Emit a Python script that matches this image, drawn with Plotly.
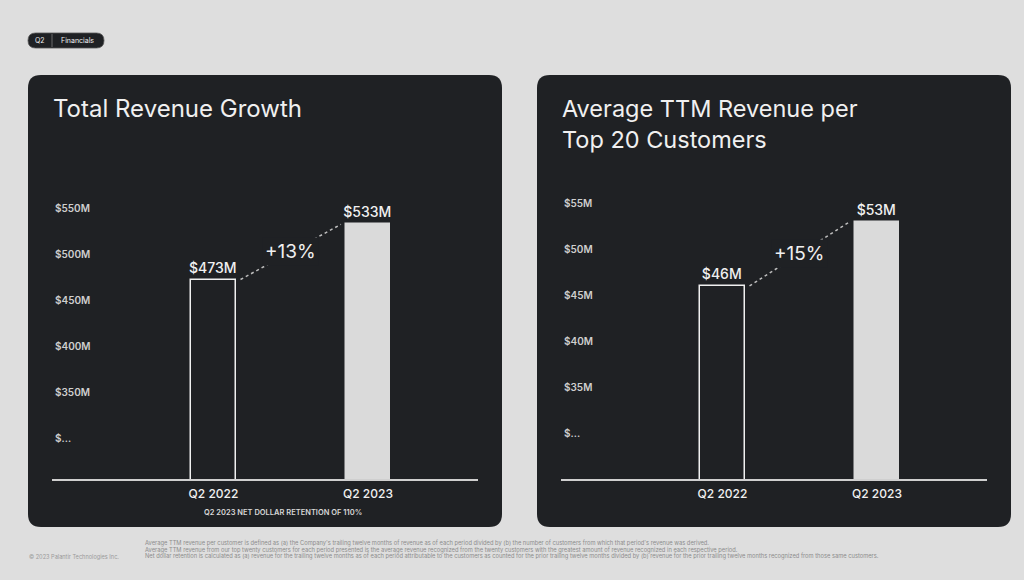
import plotly.graph_objects as go

# ---------------- data ----------------
categories = ["Q2 2022", "Q2 2023"]
revenue_m = [473, 533]            # Total revenue, $M
top20_avg_m = [46, 53]            # Avg TTM revenue per top-20 customer, $M
revenue_growth = "+13%"
top20_growth = "+15%"
rev_tickvals = [300, 350, 400, 450, 500, 550]
rev_ticktext = ["$...", "$350M", "$400M", "$450M", "$500M", "$550M"]
top_tickvals = [30, 35, 40, 45, 50, 55]
top_ticktext = ["$...", "$35M", "$40M", "$45M", "$50M", "$55M"]
left_title = "Total Revenue Growth"
right_title = "Average TTM Revenue per<br>Top 20 Customers"
ndr_note = "Q2 2023 NET DOLLAR RETENTION OF 110%"
footnotes = [
    "Average TTM revenue per customer is defined as (a) the Company's trailing twelve months of revenue as of each period divided by (b) the number of customers from which that period's revenue was derived.",
    "Average TTM revenue from our top twenty customers for each period presented is the average revenue recognized from the twenty customers with the greatest amount of revenue recognized in each respective period.",
    "Net dollar retention is calculated as (a) revenue for the trailing twelve months as of each period attributable to the customers as counted for the prior trailing twelve months divided by (b) revenue for the prior trailing twelve months recognized from those same customers.",
]
copyright_txt = "© 2023 Palantir Technologies Inc."

# ---------------- style ----------------
W, H = 1024, 580
BG = "#dedede"
PANEL = "#1f2124"
LIGHT = "#dadada"
WHITE = "#f0f0f0"
FONT = "Inter"
BAR_W = 0.29


def px(x):
    return x / W


def py(y):
    return 1 - y / H


def rounded_path(x0, y0, x1, y1, r):
    rx, ry = r / W, r / H
    X0, X1 = px(x0), px(x1)
    Y0, Y1 = py(y0), py(y1)  # Y0 top (larger), Y1 bottom
    return (
        f"M {X0+rx},{Y0} L {X1-rx},{Y0} Q {X1},{Y0} {X1},{Y0-ry} "
        f"L {X1},{Y1+ry} Q {X1},{Y1} {X1-rx},{Y1} "
        f"L {X0+rx},{Y1} Q {X0},{Y1} {X0},{Y1+ry} "
        f"L {X0},{Y0-ry} Q {X0},{Y0} {X0+rx},{Y0} Z"
    )


xpos = list(range(len(categories)))

fig = go.Figure()


def add_panel_traces(vals, xa, ya):
    fig.add_trace(go.Bar(
        x=xpos, y=vals, width=BAR_W, xaxis=xa, yaxis=ya,
        marker=dict(color=[PANEL, LIGHT], line=dict(color=[WHITE, LIGHT], width=1.5)),
        texttemplate="$%{y}M", textposition="outside", constraintext="none",
        textfont=dict(family=FONT, size=14, color=WHITE, weight=500),
        cliponaxis=False, showlegend=False, hoverinfo="skip",
    ))
    fig.add_trace(go.Scatter(
        x=[xpos[0] + BAR_W / 2 + 0.03, xpos[1] - BAR_W / 2 - 0.03],
        y=[vals[0], vals[1]], mode="lines", xaxis=xa, yaxis=ya,
        line=dict(color="#bdbdbd", width=1.5, dash="dot"),
        showlegend=False, hoverinfo="skip",
    ))


add_panel_traces(revenue_m, "x", "y")
add_panel_traces(top20_avg_m, "x2", "y2")

xcommon = dict(
    tickmode="array", tickvals=xpos, ticktext=categories, range=[-1.045, 1.712],
    showline=True, linecolor="#cfcfcf", linewidth=1.5, showgrid=False, zeroline=False,
    ticks="", ticklabelstandoff=3,
    tickfont=dict(family=FONT, size=12, color=WHITE, weight=500),
    fixedrange=True,
)
ycommon = dict(
    tickmode="array", showline=False, showgrid=False, zeroline=False, ticks="",
    ticklabelposition="inside", tickfont=dict(family=FONT, size=10, color="#cfcfcf", weight=600),
    fixedrange=True,
)
ydom = [py(479), py(194)]

fig.update_layout(
    width=W, height=H, margin=dict(l=0, r=0, t=0, b=0),
    paper_bgcolor=BG, plot_bgcolor="rgba(0,0,0,0)",
    barmode="overlay", bargap=0,
    xaxis=dict(domain=[px(52), px(478)], anchor="y", **xcommon),
    yaxis=dict(domain=ydom, anchor="x", range=[256, 566], tickvals=rev_tickvals,
               ticktext=rev_ticktext, **ycommon),
    xaxis2=dict(domain=[px(561), px(987)], anchor="y2", **xcommon),
    yaxis2=dict(domain=ydom, anchor="x2", range=[25, 56], tickvals=top_tickvals,
                ticktext=top_ticktext, **ycommon),
    hovermode=False,
)

shapes = [
    dict(type="path", path=rounded_path(28, 75, 502, 527, 13), xref="paper", yref="paper",
         fillcolor=PANEL, line=dict(width=0), layer="below"),
    dict(type="path", path=rounded_path(537, 75, 1011, 527, 13), xref="paper", yref="paper",
         fillcolor=PANEL, line=dict(width=0), layer="below"),
    dict(type="path", path=rounded_path(28, 33, 104, 48, 7.5), xref="paper", yref="paper",
         fillcolor=PANEL, line=dict(width=0.8, color="#555"), layer="below"),
    dict(type="line", x0=px(52), x1=px(52), y0=py(34), y1=py(47), xref="paper", yref="paper",
         line=dict(color="#6a6a6a", width=1)),
]
fig.update_layout(shapes=shapes)

ann = []
# titles
ann.append(dict(x=px(51), y=py(108), text=left_title, xref="paper", yref="paper",
                xanchor="left", yanchor="middle", showarrow=False, align="left",
                font=dict(family=FONT, size=24, color=WHITE, weight=400)))
ann.append(dict(x=px(560), y=py(124), text=right_title, xref="paper", yref="paper",
                xanchor="left", yanchor="middle", showarrow=False, align="left",
                font=dict(family=FONT, size=23.5, color=WHITE, weight=400)))
# growth labels (mask the dotted line)
ann.append(dict(x=0.5, y=(revenue_m[0] + revenue_m[1]) / 2, xref="x", yref="y",
                text=revenue_growth, showarrow=False, bgcolor=PANEL, borderpad=2,
                font=dict(family=FONT, size=19, color=WHITE, weight=400)))
ann.append(dict(x=0.5, y=(top20_avg_m[0] + top20_avg_m[1]) / 2, xref="x2", yref="y2",
                text=top20_growth, showarrow=False, bgcolor=PANEL, borderpad=2,
                font=dict(family=FONT, size=19, color=WHITE, weight=400)))
# NDR note
ann.append(dict(x=px(283), y=py(512), text=ndr_note, xref="paper", yref="paper",
                showarrow=False, xanchor="center", yanchor="middle",
                font=dict(family=FONT, size=7.5, color="#d8d8d8", weight=600)))
# badge
ann.append(dict(x=px(40), y=py(41), text="Q2", xref="paper", yref="paper", showarrow=False,
                xanchor="center", yanchor="middle",
                font=dict(family=FONT, size=7, color=WHITE)))
ann.append(dict(x=px(77), y=py(41), text="Financials", xref="paper", yref="paper", showarrow=False,
                xanchor="center", yanchor="middle",
                font=dict(family=FONT, size=7, color=WHITE)))
# footnotes
for i, t in enumerate(footnotes):
    ann.append(dict(x=px(143), y=py(543 + 6.5 * i), text=t, xref="paper", yref="paper",
                    xanchor="left", yanchor="middle", showarrow=False,
                    font=dict(family=FONT, size=5.75, color="#8c8c8c")))
ann.append(dict(x=px(27), y=py(556), text=copyright_txt, xref="paper", yref="paper",
                xanchor="left", yanchor="middle", showarrow=False,
                font=dict(family=FONT, size=5.6, color="#9a9a9a")))
fig.update_layout(annotations=ann)

fig.write_html("out.html", config={"displayModeBar": False},
               post_script="document.body.style.margin='0';")
